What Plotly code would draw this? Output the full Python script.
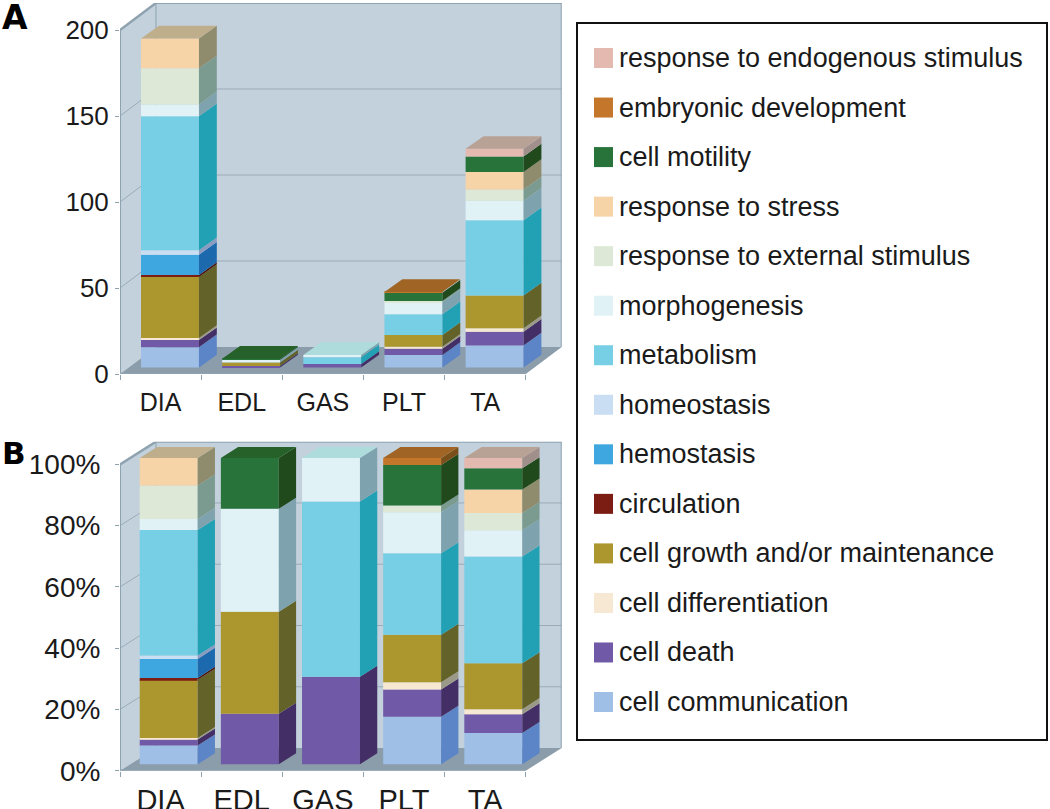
import plotly.graph_objects as go

W, H = 1050, 809

categories = ["DIA", "EDL", "GAS", "PLT", "TA"]
terms = [
    "cell communication", "cell death", "cell differentiation",
    "cell growth and/or maintenance", "circulation", "hemostasis",
    "homeostasis", "metabolism", "morphogenesis",
    "response to external stimulus", "response to stress", "cell motility",
    "embryonic development", "response to endogenous stimulus",
]

# counts, panel A (one list per term, order DIA EDL GAS PLT TA)
a_comm = [11.8, 0, 0, 7.2, 12.8]
a_death = [4.1, 0.8, 2.0, 3.7, 8.0]
a_diff = [1.2, 0, 0, 1.2, 2.0]
a_growth = [35.5, 2.1, 0, 6.8, 19.0]
a_circ = [1.2, 0, 0, 0, 0]
a_hemo = [11.8, 0, 0, 0, 0]
a_homeo = [2.5, 0, 0, 0, 0]
a_metab = [78.0, 0, 3.9, 12.0, 43.8]
a_morph = [6.8, 1.6, 1.4, 7.0, 11.4]
a_ext = [21.0, 0, 0, 0.8, 6.4]
a_stress = [17.4, 0, 0, 0, 10.3]
a_motil = [0, 0.6, 0, 4.8, 8.9]
a_embryo = [0, 0, 0, 0.4, 0]
a_endo = [0, 0, 0, 0, 4.5]

# percent, panel B
b_comm = [6.1, 0, 0, 15.5, 10.2]
b_death = [2.0, 16.5, 28.6, 8.9, 6.1]
b_diff = [0.5, 0, 0, 2.4, 1.7]
b_growth = [19.0, 33.3, 0, 15.5, 15.0]
b_circ = [0.6, 0, 0, 0, 0]
b_hemo = [6.2, 0, 0, 0, 0]
b_homeo = [1.1, 0, 0, 0, 0]
b_metab = [41.0, 0, 57.2, 26.6, 34.8]
b_morph = [3.6, 33.6, 14.2, 13.4, 8.6]
b_ext = [10.9, 0, 0, 2.2, 5.6]
b_stress = [9.0, 0, 0, 0, 7.7]
b_motil = [0, 16.6, 0, 13.2, 6.9]
b_embryo = [0, 0, 0, 2.3, 0]
b_endo = [0, 0, 0, 0, 3.4]

front = ["#9fbfe6", "#7059a6", "#f6e8d2", "#ac962e", "#7b1d12", "#3fa7e0", "#c9def2",
         "#76cfe4", "#e0f2f5", "#dde9d6", "#f7d4a8", "#27733a", "#c4762a", "#e3b9b0"]
side = ["#5b85c6", "#432f66", "#9b9a88", "#636228", "#4a120b", "#1c69ad", "#8a9cc0",
        "#22a0b4", "#7fa3ae", "#7c9b90", "#8f8c6e", "#214a1c", "#7a4f1a", "#a08f8a"]
top = ["#7ba0d6", "#574585", "#c8c0a8", "#877828", "#5f160e", "#2d88c6", "#a9bdd9",
       "#4cb8cc", "#aedcdc", "#aebfb0", "#bfae8c", "#256128", "#a06524", "#b8a295"]

WALL = "#c3d1dd"
FLOOR = "#8b9dab"
FRAME = "#8ea2af"
GRID = "#9aabb7"
INK = "#1a1a1a"

wall_dx = 0.443
bar_w = 0.714
panels = [
    dict(xa="x", ya="y", rows=[a_comm, a_death, a_diff, a_growth, a_circ, a_hemo, a_homeo,
                               a_metab, a_morph, a_ext, a_stress, a_motil, a_embryo, a_endo],
         ymax=215.7, ticks=[0, 50, 100, 150, 200], suffix="", wall_dy=15.7, front_max=200,
         bar_x=0.259, bar_dx=0.22, bar_dy=7.4, lift=3.8, px_top=3, px_bottom=374,
         tick_size=26, cat_size=25, standoff=6, y_standoff=1),
    dict(xa="x2", ya="y2", rows=[b_comm, b_death, b_diff, b_growth, b_circ, b_hemo, b_homeo,
                                 b_metab, b_morph, b_ext, b_stress, b_motil, b_embryo, b_endo],
         ymax=107.4, ticks=[0, 20, 40, 60, 80, 100], suffix="%", wall_dy=7.4, front_max=100,
         bar_x=0.243, bar_dx=0.213, bar_dy=3.6, lift=2.1, px_top=441.7, px_bottom=770.7,
         tick_size=28, cat_size=29, standoff=3, y_standoff=9),
]

fig = go.Figure()
shapes = []


def poly(xa, ya, pts, color):
    path = "M " + " L ".join(f"{x} {y}" for x, y in pts) + " Z"
    shapes.append(dict(type="path", path=path, xref=xa, yref=ya, fillcolor=color,
                       line=dict(width=0), layer="below"))


def seg(xa, ya, x0, y0, x1, y1, color, width):
    shapes.append(dict(type="line", x0=x0, y0=y0, x1=x1, y1=y1, xref=xa, yref=ya,
                       line=dict(color=color, width=width), layer="below"))


for p in panels:
    xa, ya = p["xa"], p["ya"]
    n = len(categories)
    dy = p["wall_dy"]
    fm = p["front_max"]
    # walls and floor
    poly(xa, ya, [(wall_dx, dy), (n + wall_dx, dy), (n + wall_dx, fm + dy), (wall_dx, fm + dy)], WALL)
    poly(xa, ya, [(0, 0), (wall_dx, dy), (wall_dx, fm + dy), (0, fm)], WALL)
    poly(xa, ya, [(0, 0), (n, 0), (n + wall_dx, dy), (wall_dx, dy)], FLOOR)
    for t in p["ticks"][1:-1]:
        seg(xa, ya, wall_dx, t + dy, n + wall_dx, t + dy, GRID, 1)
        seg(xa, ya, 0, t, wall_dx, t + dy, GRID, 1)
    seg(xa, ya, wall_dx, dy, wall_dx, fm + dy, FRAME, 1)
    seg(xa, ya, 0, 0, 0, fm, FRAME, 2)
    seg(xa, ya, 0, fm, wall_dx, fm + dy, FRAME, 2.5)
    seg(xa, ya, wall_dx, fm + dy, n + wall_dx, fm + dy, FRAME, 2)
    seg(xa, ya, n + wall_dx, dy, n + wall_dx, fm + dy, FRAME, 2)
    seg(xa, ya, 0, 0, n, 0, FRAME, 2.5)

    # stacked bars, front faces are real bars, the other faces follow from the same stack
    base = [p["lift"]] * n
    top_term = [None] * n
    stacks = []
    for t, row in enumerate(p["rows"]):
        bottoms = list(base)
        centers = [i + p["bar_x"] + bar_w / 2 for i in range(n)]
        fig.add_trace(go.Bar(x=centers, y=row, base=bottoms, width=bar_w, xaxis=xa, yaxis=ya,
                             marker=dict(color=front[t], line=dict(width=0)), name=terms[t],
                             showlegend=False))
        sx, sy = [], []
        for i, v in enumerate(row):
            if v <= 0:
                continue
            r = i + p["bar_x"] + bar_w
            b = bottoms[i]
            sx += [r, r + p["bar_dx"], r + p["bar_dx"], r, r, None]
            sy += [b, b + p["bar_dy"], b + v + p["bar_dy"], b + v, b, None]
            base[i] = b + v
            top_term[i] = t
        stacks.append((sx, sy))
    for t, (sx, sy) in enumerate(stacks):
        if sx:
            fig.add_trace(go.Scatter(x=sx, y=sy, mode="lines", fill="toself", fillcolor=side[t],
                                     line=dict(width=0), xaxis=xa, yaxis=ya, hoverinfo="skip",
                                     showlegend=False))
    for i, t in enumerate(top_term):
        l = i + p["bar_x"]
        r = l + bar_w
        h = base[i]
        fig.add_trace(go.Scatter(x=[l, r, r + p["bar_dx"], l + p["bar_dx"], l],
                                 y=[h, h, h + p["bar_dy"], h + p["bar_dy"], h],
                                 mode="lines", fill="toself", fillcolor=top[t], line=dict(width=0),
                                 xaxis=xa, yaxis=ya, hoverinfo="skip", showlegend=False))

tick_font = dict(family="Liberation Sans", color=INK)
layout_axes = {}
for k, p in enumerate(panels):
    sfx = "" if k == 0 else "2"
    layout_axes["xaxis" + sfx] = dict(
        domain=[120 / W, 561.7 / W], range=[0, len(categories) + wall_dx], anchor="y" + sfx,
        tickmode="array", tickvals=[i + 0.5 for i in range(len(categories))], ticktext=categories,
        ticks="outside", ticklen=0, tickfont=dict(tick_font, size=p["cat_size"]), showgrid=False,
        zeroline=False, showline=False, ticklabelstandoff=p["standoff"], automargin=False,
        minor=dict(tickmode="array", tickvals=list(range(len(categories) + 1)), ticks="outside",
                   ticklen=5, tickcolor=FRAME, tickwidth=1, showgrid=False))
    layout_axes["yaxis" + sfx] = dict(
        domain=[1 - p["px_bottom"] / H, 1 - p["px_top"] / H], range=[0, p["ymax"]], anchor="x" + sfx,
        tickmode="array", tickvals=p["ticks"], ticktext=[f"{t}{p['suffix']}" for t in p["ticks"]],
        ticks="outside", ticklen=4, tickcolor=FRAME, tickwidth=1, automargin=False,
        tickfont=dict(tick_font, size=p["tick_size"]), showgrid=False,
        zeroline=False, showline=False, ticklabelstandoff=p["y_standoff"])

# legend box on the right, newest term on top
annotations = []
shapes.append(dict(type="rect", xref="paper", yref="paper", x0=577 / W, x1=1047 / W,
                   y0=1 - 740 / H, y1=1 - 23 / H, line=dict(color="#111111", width=2),
                   fillcolor="white", layer="below"))
row_y = 58
for t in range(len(terms) - 1, -1, -1):
    shapes.append(dict(type="rect", xref="paper", yref="paper", x0=594 / W, x1=613 / W,
                       y0=1 - (row_y + 10) / H, y1=1 - (row_y - 10) / H,
                       fillcolor=front[t], line=dict(width=0)))
    annotations.append(dict(text=terms[t], xref="paper", yref="paper", x=617 / W, y=1 - row_y / H,
                            xanchor="left", yanchor="middle", showarrow=False,
                            font=dict(family="Liberation Sans", size=27, color=INK)))
    row_y += 49.54

for label, px, py, size in [("A", 0, 17, 33), ("B", 0, 453, 31)]:
    annotations.append(dict(text=label, xref="paper", yref="paper", x=px / W, y=1 - py / H,
                            xanchor="left", yanchor="middle", showarrow=False,
                            font=dict(family="DejaVu Sans", size=size, color="black", weight="bold")))

fig.update_layout(width=W, height=H, margin=dict(l=0, r=0, t=0, b=0), paper_bgcolor="white",
                  plot_bgcolor="rgba(0,0,0,0)", barmode="overlay", showlegend=False,
                  shapes=shapes, annotations=annotations, **layout_axes)

# the page's default body margin would push the fixed-size plot 8px down and right
fig.write_html("out.html", config=dict(displayModeBar=False),
               post_script="document.body.style.margin='0';")
